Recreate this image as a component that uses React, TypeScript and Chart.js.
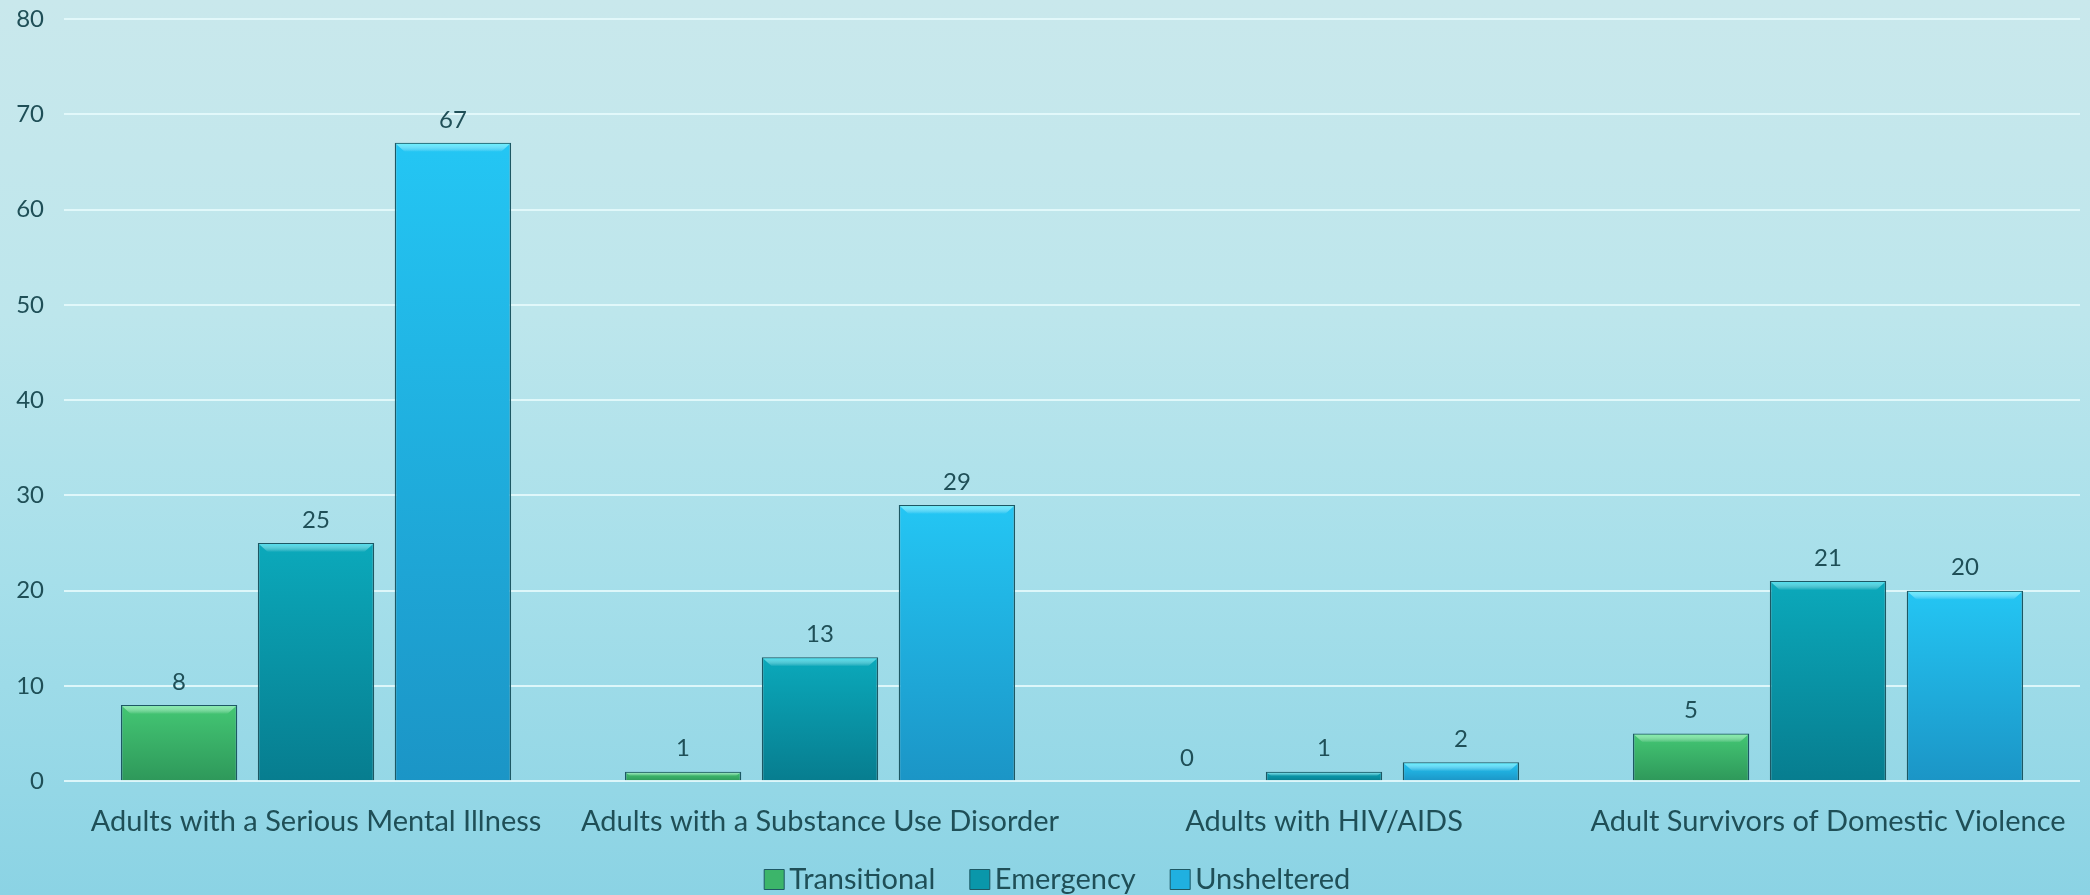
import React, { useEffect, useRef } from "react";
import { Chart, registerables } from "chart.js";

Chart.register(...registerables);

const categories = [
  "Adults with a Serious Mental Illness",
  "Adults with a Substance Use Disorder",
  "Adults with HIV/AIDS",
  "Adult Survivors of Domestic Violence",
];
const seriesNames = ["Transitional", "Emergency", "Unsheltered"];
const transitional = [8, 1, 0, 5];
const emergency = [25, 13, 1, 21];
const unsheltered = [67, 29, 2, 20];
const yMin = 0;
const yMax = 80;
const yStep = 10;

const TEXT = "#1f4f57";
const FONT = "Lato, 'Open Sans', sans-serif";

// top colour, bottom colour, bevel colour, legend colour
const palettes = [
  ["#44c774", "#2e985a", "#7cf0a8", "#3cb56a"],
  ["#0ba9bb", "#077d8f", "#3fe0f0", "#0a97aa"],
  ["#24c6f4", "#1b95c6", "#5af0ff", "#20b0e0"],
];

function barGradient(pi: number) {
  return (ctx: any) => {
    const chart = ctx.chart;
    const area = chart.chartArea;
    if (!area || ctx.type !== "data") return palettes[pi][0];
    const yScale = chart.scales.y;
    const v = ctx.raw as number;
    const top = yScale.getPixelForValue(v);
    const base = yScale.getPixelForValue(0);
    if (base - top < 1) return palettes[pi][0];
    const g = chart.ctx.createLinearGradient(0, top, 0, base);
    g.addColorStop(0, palettes[pi][0]);
    g.addColorStop(1, palettes[pi][1]);
    return g;
  };
}

const bevelAndLabels = {
  id: "bevelAndLabels",
  afterLayout(chart: any) {
    const l = chart.legend;
    if (l) {
      l.top -= 33;
      l.bottom -= 33;
      l.left += 22;
      l.right += 22;
    }
  },
  afterDatasetsDraw(chart: any) {
    const ctx = chart.ctx;
    ctx.save();
    chart.data.datasets.forEach((ds: any, di: number) => {
      const meta = chart.getDatasetMeta(di);
      meta.data.forEach((el: any, i: number) => {
        const { x, y, width, base } = el.getProps(["x", "y", "width", "base"], true);
        const h = base - y;
        const left = x - width / 2;
        const right = x + width / 2;
        const bev = Math.min(9, h / 2);
        if (h > 2) {
          const g = ctx.createLinearGradient(0, y, 0, y + bev);
          g.addColorStop(0, palettes[di][2]);
          g.addColorStop(1, "rgba(255,255,255,0)");
          ctx.fillStyle = g;
          ctx.beginPath();
          ctx.moveTo(left + 1, y + 1);
          ctx.lineTo(right - 1, y + 1);
          ctx.lineTo(right - 1 - bev, y + bev);
          ctx.lineTo(left + 1 + bev, y + bev);
          ctx.closePath();
          ctx.fill();
        }
        ctx.fillStyle = TEXT;
        ctx.font = `24px ${FONT}`;
        ctx.textAlign = "center";
        ctx.textBaseline = "bottom";
        ctx.fillText(String(ds.data[i]), x, y - 11);
      });
    });
    ctx.restore();
  },
};

export default function App() {
  const ref = useRef<HTMLCanvasElement>(null);
  useEffect(() => {
    document.body.style.margin = "0";
    const chart = new Chart(ref.current!, {
      type: "bar",
      data: {
        labels: categories,
        datasets: [transitional, emergency, unsheltered].map((d, i) => ({
          label: seriesNames[i],
          data: d,
          backgroundColor: barGradient(i),
          borderColor: "#1d5864",
          borderWidth: 1.5,
          categoryPercentage: 0.815,
          barPercentage: 0.85,
        })),
      },
      options: {
        animation: false,
        responsive: false,
        maintainAspectRatio: false,
        layout: { padding: { top: 0, right: 10, left: 0, bottom: -42 } },
        scales: {
          x: {
            grid: { display: false },
            border: { display: false },
            ticks: {
              color: TEXT,
              font: { family: FONT, size: 29 },
              padding: 15,
              maxRotation: 0,
              autoSkip: false,
            },
          },
          y: {
            min: yMin,
            max: yMax,
            border: { display: false },
            grid: { color: "rgba(228,250,252,0.9)", lineWidth: 2, drawTicks: false },
            ticks: {
              stepSize: yStep,
              color: TEXT,
              font: { family: FONT, size: 24 },
              padding: 20,
            },
            afterFit: (s: any) => {
              s.width = 64;
              s.paddingTop = 19;
            },
          },
        },
        plugins: {
          legend: {
            position: "bottom",
            labels: {
              color: TEXT,
              font: { family: FONT, size: 29 },
              usePointStyle: true,
              pointStyle: "rect",
              boxWidth: 1,
              boxHeight: 20,
              padding: 44,
              generateLabels: () =>
                seriesNames.map((n, i) => ({
                  text: n,
                  fillStyle: palettes[i][3],
                  strokeStyle: "#1d5864",
                  lineWidth: 1,
                  pointStyle: "rect",
                  fontColor: TEXT,
                  datasetIndex: i,
                  hidden: false,
                })),
            },
          },
          tooltip: { enabled: false },
        },
      },
      plugins: [bevelAndLabels],
    });
    return () => chart.destroy();
  }, []);
  return (
    <div
      style={{
        width: 2090,
        height: 895,
        background:
          "linear-gradient(180deg, #c9e8ec 0%, #bde6ec 35%, #a6dfea 65%, #8bd3e4 100%)",
      }}
    >
      <canvas ref={ref} width={2090} height={895} style={{ display: "block" }} />
    </div>
  );
}
